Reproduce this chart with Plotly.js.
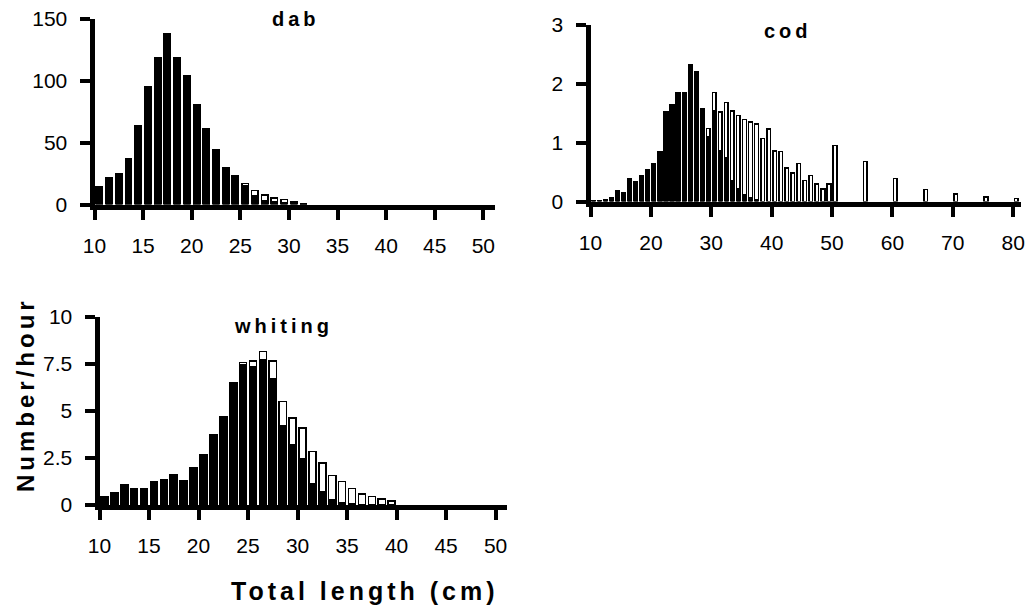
<!DOCTYPE html>
<html><head><meta charset="utf-8">
<script src="https://cdn.plot.ly/plotly-3.0.1.min.js"></script>
<style>
html,body{margin:0;padding:0;background:#fff;}
#chart{width:1034px;height:612px;}
.annotation-text{letter-spacing:4px;}
</style></head><body><div id="chart"></div>
<script>
// ---- data (length class start in cm, number per hour) ----
const dabLength = [10,11,12,13,14,15,16,17,18,19,20,21,22,23,24,25,26,27,28,29,30,31];
const dabBlack  = [14,21.5,25,37,64,95,119,138,119,104,81,61,44,30,23,15.5,7,3,2.4,1.8,1.5,0.5];
const dabWhite  = [0,0,0,0,0,0,0,0,0,0,0,0,0,0,0,1.5,4.4,4.7,2.9,2.4,0.9,0];

const codLength = [10,11,12,13,14,15,16,17,18,19,20,21,22,23,24,25,26,27,28,29,30,31,32,33,34,35,36,37,38,39,40,41,42,43,44,45,46,47,48,49,50,55,60,65,70,75,80];
const codBlack  = [0.02,0.02,0.03,0.07,0.19,0.15,0.38,0.34,0.43,0.53,0.64,0.85,1.52,1.64,1.84,1.85,2.32,2.2,1.55,1.09,1.53,0.86,0.75,0.35,0.21,0.12,0.07,0.03,0,0,0,0,0,0,0,0,0,0,0,0,0,0,0,0,0,0,0];
const codWhite  = [0,0,0,0,0,0,0,0,0,0,0,0,0,0,0,0,0,0,0.02,0.15,0.32,0.66,0.93,1.18,1.25,1.27,1.28,1.28,1.07,1.23,0.86,0.85,0.57,0.48,0.64,0.36,0.44,0.30,0.21,0.30,0.95,0.68,0.39,0.2,0.13,0.08,0.05];

const whitingLength = [10,11,12,13,14,15,16,17,18,19,20,21,22,23,24,25,26,27,28,29,30,31,32,33,34,35,36,37,38,39];
const whitingBlack  = [0.45,0.66,1.07,0.84,0.84,1.26,1.35,1.61,1.31,1.99,2.66,3.71,4.71,6.47,7.45,7.33,7.73,6.72,4.23,3.18,2.48,1.12,0.7,0.3,0.12,0.05,0.02,0,0,0];
const whitingWhite  = [0,0,0,0,0,0,0,0,0,0,0,0,0,0,0.12,0.33,0.42,0.92,1.28,1.44,1.61,1.71,1.52,1.26,1.14,0.82,0.57,0.44,0.31,0.21];

const panelTitles = ['dab','cod','whiting'];
const yTitle = 'Number/hour';
const xTitle = 'Total length (cm)';

// ---- layout helpers ----
const W = 1034, H = 612;
const px = v => v / W;
const py = v => 1 - v / H;
const FONT = 'Liberation Sans, Arial, sans-serif';

function barPair(x, black, white, xa, ya, w) {
  const off = (1 - w) / 2;
  return [
    {type:'bar', x:x, y:black, xaxis:xa, yaxis:ya, width:w, offset:off,
     marker:{color:'#000', line:{color:'#000', width:1.5}}, hoverinfo:'skip'},
    {type:'bar', x:x, y:white, xaxis:xa, yaxis:ya, width:w, offset:off,
     marker:{color:'#fff', line:{color:'#000', width:1.5}}, hoverinfo:'skip'}
  ];
}

const data = [
  ...barPair(dabLength, dabBlack, dabWhite, 'x', 'y', 0.66),
  ...barPair(codLength, codBlack, codWhite, 'x2', 'y2', 0.6),
  ...barPair(whitingLength, whitingBlack, whitingWhite, 'x3', 'y3', 0.72)
];

function axis(extra) {
  return Object.assign({
    showgrid:false, zeroline:false, showline:true, linewidth:5, linecolor:'#000',
    ticks:'outside', ticklen:10, tickwidth:4, tickcolor:'#000',
    tickfont:{family:FONT, size:21, color:'#000'}, fixedrange:true
  }, extra);
}

const layout = {
  width:W, height:H, autosize:false,
  margin:{l:0,r:0,t:0,b:0},
  paper_bgcolor:'#fff', plot_bgcolor:'#fff',
  showlegend:false, barmode:'stack',
  xaxis: axis({domain:[px(94.5), px(495)], range:[10,51.2], tickmode:'linear', tick0:10, dtick:5, anchor:'y', ticklabelstandoff:8}),
  yaxis: axis({domain:[py(204.5), py(19)], range:[0,150], tickmode:'linear', tick0:0, dtick:50, anchor:'x', ticklabelstandoff:8}),
  xaxis2: axis({domain:[px(590.5), px(1021)], range:[10,81.3], tickmode:'linear', tick0:10, dtick:10, anchor:'y2', ticklabelstandoff:8}),
  yaxis2: axis({domain:[py(201.5), py(24.5)], range:[0,3], tickmode:'linear', tick0:0, dtick:1, anchor:'x2', ticklabelstandoff:8}),
  xaxis3: axis({domain:[px(99.5), px(507)], range:[10,51.15], tickmode:'linear', tick0:10, dtick:5, anchor:'y3', ticklabelstandoff:8}),
  yaxis3: axis({domain:[py(505), py(316.7)], range:[0,10], tickmode:'linear', tick0:0, dtick:2.5, anchor:'x3', ticklabelstandoff:8}),
  annotations: [
    {text:panelTitles[0], xref:'paper', yref:'paper', x:px(296), y:py(19), xanchor:'center', yanchor:'middle', showarrow:false,
     font:{family:FONT, size:20, weight:700, color:'#000'}},
    {text:panelTitles[1], xref:'paper', yref:'paper', x:px(788), y:py(31), xanchor:'center', yanchor:'middle', showarrow:false,
     font:{family:FONT, size:20, weight:700, color:'#000'}},
    {text:panelTitles[2], xref:'paper', yref:'paper', x:px(283), y:py(326), xanchor:'center', yanchor:'middle', showarrow:false,
     font:{family:FONT, size:20, weight:700, color:'#000'}},
    {text:yTitle, xref:'paper', yref:'paper', x:px(25), y:py(395), xanchor:'center', yanchor:'middle', textangle:-90, showarrow:false,
     font:{family:FONT, size:24, weight:700, color:'#000'}},
    {text:xTitle, xref:'paper', yref:'paper', x:px(365), y:py(591), xanchor:'center', yanchor:'middle', showarrow:false,
     font:{family:FONT, size:25, weight:700, color:'#000'}}
  ]
};

Plotly.newPlot('chart', data, layout, {staticPlot:true, displayModeBar:false});
</script></body></html>
